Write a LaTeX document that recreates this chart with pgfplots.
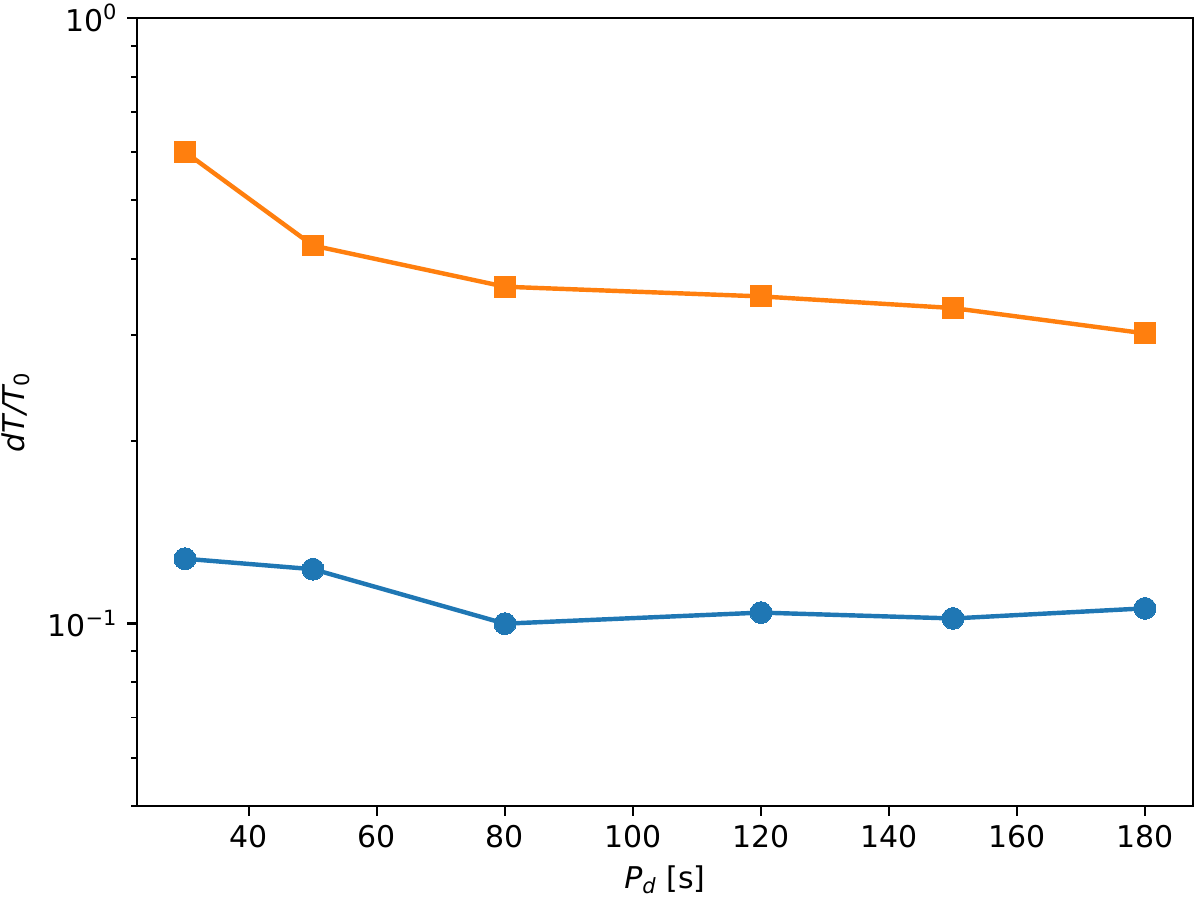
\documentclass[border=0pt]{standalone}
\usepackage{fontspec}
\setmainfont{DejaVu Sans}
\usepackage{pgfplots}
\pgfplotsset{compat=1.18}
\definecolor{mplblue}{HTML}{1F77B4}
\definecolor{mplorange}{HTML}{FF7F0E}
\begin{document}
\begin{tikzpicture}
\path[use as bounding box] (-52.6pt,-36.1pt) rectangle (408.2pt,309.5pt);
\begin{axis}[
  at={(0,0)}, anchor=south west,
  scale only axis, width=405.5pt, height=302.6pt,
  ymode=log, ymin=0.05, ymax=1,
  xmin=22.5, xmax=187.5,
  xtick={40,60,...,180},
  ytick={0.1,1},
  minor ytick={0.05,0.06,0.07,0.08,0.09,0.2,0.3,0.4,0.5,0.6,0.7,0.8,0.9},
  yticklabels={10\textsuperscript{−1},10\textsuperscript{0}},
  /pgf/number format/assume math mode=true,
  xticklabel style={font=\fontsize{11.5}{13}\selectfont},
  yticklabel style={font=\fontsize{11.5}{13}\selectfont},
  tick align=outside,
  major tick length=3.8pt,
  minor tick length=2.2pt,
  every tick/.style={black, line width=0.9pt},
  every minor tick/.style={black, line width=0.7pt},
  xtick pos=bottom, ytick pos=left,
  axis line style={line width=0.9pt},
  xlabel={{\itshape P}\textsubscript{\itshape d} [s]},
  ylabel={{\itshape dT/T}\textsubscript{0}},
  label style={font=\fontsize{11.5}{13}\selectfont},
  clip=false,
]
\addplot[mplblue, line width=1.7pt, mark=*, mark size=4.2pt, mark options={solid, fill=mplblue, draw=mplblue, line width=0pt}]
  coordinates {(30,0.128) (50,0.123) (80,0.100) (120,0.1043) (150,0.102) (180,0.106)};
\addplot[mplorange, line width=1.7pt, mark=square*, mark size=4pt, mark options={solid, fill=mplorange, draw=mplorange, line width=0pt}]
  coordinates {(30,0.601) (50,0.421) (80,0.360) (120,0.347) (150,0.332) (180,0.3015)};
\end{axis}
\end{tikzpicture}
\end{document}
